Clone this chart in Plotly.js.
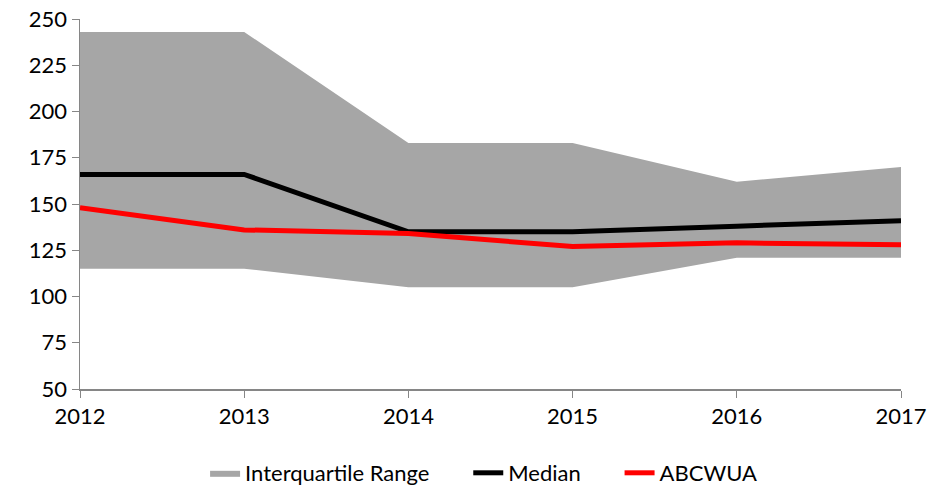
<!DOCTYPE html>
<html><head><meta charset="utf-8">
<script src="https://cdn.plot.ly/plotly-3.0.1.min.js"></script>
<style>html,body{margin:0;padding:0;background:#fff}</style>
</head><body><div id="chart" style="width:939px;height:494px"></div>
<script>
const years = [2012, 2013, 2014, 2015, 2016, 2017];
const iqrLower = [115, 115, 105, 105, 121, 121];
const iqrUpper = [243, 243, 183, 183, 162, 170];
const median = [166, 166, 135, 135, 138, 141];
const abcwua = [148, 136, 134, 127, 129, 128];
const seriesNames = ['Interquartile Range', 'Median', 'ABCWUA'];
const gap = '\u00a0\u00a0\u00a0\u00a0\u00a0\u00a0';

const traces = [
  {x: years, y: iqrLower, type: 'scatter', mode: 'lines', line: {width: 0, color: '#a6a6a6'}, showlegend: false, hoverinfo: 'skip'},
  {x: years, y: iqrUpper, type: 'scatter', mode: 'lines', fill: 'tonexty', fillcolor: '#a6a6a6', line: {width: 0, color: '#a6a6a6'}, name: seriesNames[0] + gap},
  {x: years, y: median, type: 'scatter', mode: 'lines', line: {width: 5, color: '#000000'}, name: seriesNames[1] + gap},
  {x: years, y: abcwua, type: 'scatter', mode: 'lines', line: {width: 5, color: '#ff0000'}, name: seriesNames[2]}
];
const layout = {
  width: 939, height: 494,
  margin: {l: 80, r: 38, t: 19, b: 105},
  paper_bgcolor: '#fff', plot_bgcolor: '#fff',
  font: {family: 'Lato, "Open Sans", sans-serif', size: 22, color: '#000'},
  xaxis: {range: [2012, 2017], tickvals: years, ticktext: years.map(String), showgrid: false, zeroline: false,
          showline: true, linecolor: '#868686', linewidth: 1.5, ticks: 'outside', ticklen: 7, tickcolor: '#868686', tickfont: {size: 22}},
  yaxis: {range: [50, 250], tickvals: [50, 75, 100, 125, 150, 175, 200, 225, 250], showgrid: false, zeroline: false,
          showline: true, linecolor: '#868686', linewidth: 1.5, ticks: 'outside', ticklen: 7, tickcolor: '#868686', tickfont: {size: 22}},
  legend: {orientation: 'h', traceorder: 'normal', x: 0.515, xref: 'container', xanchor: 'center', y: -0.012, yref: 'container', yanchor: 'bottom', font: {size: 22}},
  showlegend: true
};
Plotly.newPlot('chart', traces, layout, {displayModeBar: false, staticPlot: true});
</script></body></html>
